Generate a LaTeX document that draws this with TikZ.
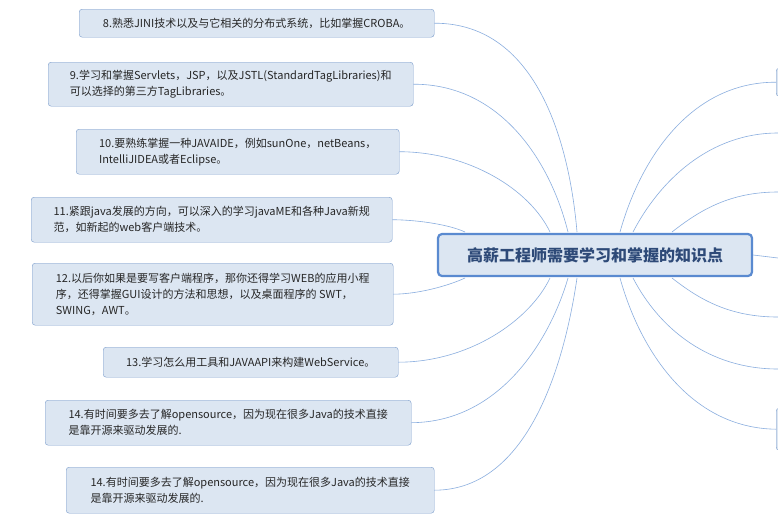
\documentclass[tikz,border=0pt]{standalone}
\usepackage{fontspec}
\setmainfont{Noto Sans CJK SC}
\definecolor{boxfill}{HTML}{DCE6F2}
\definecolor{boxline}{HTML}{7A9CCB}
\definecolor{rootline}{HTML}{5A8AD0}
\definecolor{rootText}{HTML}{2E4A78}
\definecolor{linkline}{HTML}{8AAEDF}
\tikzset{
  leaf/.style={draw=boxline, fill=boxfill, rounded corners=3pt, align=left, anchor=north west,
    inner xsep=9pt, inner ysep=0pt, font=\fontsize{11}{16}\selectfont, text=black!85},
  root/.style={draw=rootline, line width=2.2pt, fill=boxfill, rounded corners=4pt,
    minimum width=314pt, minimum height=42pt, font=\fontsize{16}{18}\selectfont\bfseries, text=rootText},
  link/.style={draw=linkline, line width=0.6pt}
}
\begin{document}
\begin{tikzpicture}[x=1pt,y=-1pt]
\clip (0,0) rectangle (778,528);
\fill[white] (0,0) rectangle (778,528);
% right side stubs
\node[leaf, minimum width=40pt, minimum height=28pt] (r1) at (776,68) {};
\node[leaf, minimum width=40pt, minimum height=42pt] (r7) at (776,408) {};
% links
\coordinate (t1) at (577,232); \coordinate (t2) at (568,232); \coordinate (t3) at (550,232);
\coordinate (t4) at (465,232); \coordinate (b5) at (465,278); \coordinate (b6) at (550,278);
\coordinate (b7) at (568,278); \coordinate (b8) at (577,278);
\coordinate (u1) at (620,232); \coordinate (u2) at (633,232); \coordinate (u3) at (672,232);
\coordinate (d3) at (672,278); \coordinate (d2) at (633,278); \coordinate (d1) at (620,278);
\coordinate (e2) at (778,133); \coordinate (e3) at (778,192); \coordinate (e4) at (778,258);
\coordinate (e5) at (778,317); \coordinate (e6) at (778,369);
% left boxes
\node[leaf, minimum width=355pt, minimum height=28pt] (k8) at (79,9) {8.熟悉JINI技术以及与它相关的分布式系统，比如掌握CROBA。};
\node[leaf, minimum width=365pt, minimum height=44pt] (k9) at (48,62) {9.学习和掌握Servlets，JSP，以及JSTL(StandardTagLibraries)和\\可以选择的第三方TagLibraries。};
\node[leaf, minimum width=323pt, minimum height=45pt] (k10) at (76,129) {10.要熟练掌握一种JAVAIDE，例如sunOne，netBeans，\\IntelliJIDEA或者Eclipse。};
\node[leaf, minimum width=361pt, minimum height=45pt] (k11) at (31,197) {11.紧跟java发展的方向，可以深入的学习javaME和各种Java新规\\范，如新起的web客户端技术。};
\node[leaf, minimum width=361pt, minimum height=62pt] (k12) at (32,263) {12.以后你如果是要写客户端程序，那你还得学习WEB的应用小程\\序，还得掌握GUI设计的方法和思想，以及桌面程序的 SWT，\\SWING，AWT。};
\node[leaf, minimum width=295pt, minimum height=30pt] (k13) at (103,347) {13.学习怎么用工具和JAVAAPI来构建WebService。};
\node[leaf, minimum width=366pt, minimum height=45pt] (k14) at (45,400) {14.有时间要多去了解opensource，因为现在很多Java的技术直接\\是靠开源来驱动发展的.};
\node[leaf, minimum width=368pt, minimum height=46pt] (k15) at (66,467) {14.有时间要多去了解opensource，因为现在很多Java的技术直接\\是靠开源来驱动发展的.};
\draw[link] (k8.east) .. controls (540,23) and (570,150) .. (t1);
\draw[link] (k9.east) .. controls (500,84) and (550,160) .. (t2);
\draw[link] (k10.east) .. controls (470,152) and (530,190) .. (t3);
\draw[link] (k11.east) .. controls (420,220) and (450,225) .. (t4);
\draw[link] (k12.east) .. controls (420,294) and (450,285) .. (b5);
\draw[link] (k13.east) .. controls (470,362) and (530,320) .. (b6);
\draw[link] (k14.east) .. controls (500,422) and (550,340) .. (b7);
\draw[link] (k15.east) .. controls (530,490) and (565,360) .. (b8);
\draw[link] (r1.west) .. controls (690,82) and (640,160) .. (u1);
\draw[link] (e2) .. controls (710,133) and (660,180) .. (u2);
\draw[link] (e3) .. controls (730,192) and (700,210) .. (u3);
\draw[link] (e5) .. controls (730,317) and (700,300) .. (d3);
\draw[link] (e6) .. controls (710,369) and (660,330) .. (d2);
\draw[link] (r7.west) .. controls (690,428) and (640,350) .. (d1);
% root
\node[root] (root) at (595,255) {高薪工程师需要学习和掌握的知识点};
\draw[link] (root.east) -- (e4);
\end{tikzpicture}
\end{document}
